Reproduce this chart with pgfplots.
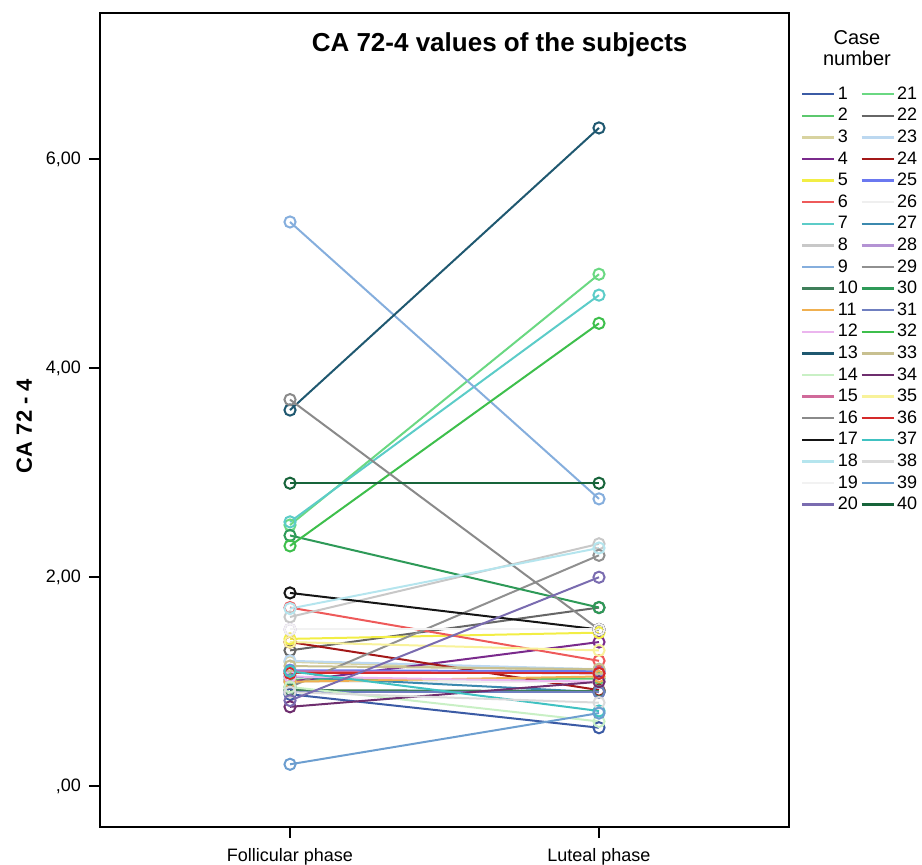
\documentclass[border=0pt]{standalone}
\usepackage{pgfplots}
\pgfplotsset{compat=1.18}
\usepackage{fontspec}
\setmainfont{Liberation Sans}
\definecolor{c1}{HTML}{3B5BA5}
\definecolor{c2}{HTML}{5CC86E}
\definecolor{c3}{HTML}{D8D3A0}
\definecolor{c4}{HTML}{7A2A8C}
\definecolor{c5}{HTML}{F2EE45}
\definecolor{c6}{HTML}{EE5A5A}
\definecolor{c7}{HTML}{5CCCC8}
\definecolor{c8}{HTML}{C8C8C8}
\definecolor{c9}{HTML}{85AEDD}
\definecolor{c10}{HTML}{3F7F5A}
\definecolor{c11}{HTML}{F0B050}
\definecolor{c12}{HTML}{EBB5EE}
\definecolor{c13}{HTML}{1F5870}
\definecolor{c14}{HTML}{C9F0C5}
\definecolor{c15}{HTML}{D06A9A}
\definecolor{c16}{HTML}{8A8A8A}
\definecolor{c17}{HTML}{151515}
\definecolor{c18}{HTML}{B5E5EE}
\definecolor{c19}{HTML}{F2F2F2}
\definecolor{c20}{HTML}{7A6CB0}
\definecolor{c21}{HTML}{6AD882}
\definecolor{c22}{HTML}{666666}
\definecolor{c23}{HTML}{BCD8F0}
\definecolor{c24}{HTML}{A31818}
\definecolor{c25}{HTML}{6A78F0}
\definecolor{c26}{HTML}{EFEFEF}
\definecolor{c27}{HTML}{3B89AE}
\definecolor{c28}{HTML}{B493D4}
\definecolor{c29}{HTML}{909090}
\definecolor{c30}{HTML}{2E9A58}
\definecolor{c31}{HTML}{6F7FC0}
\definecolor{c32}{HTML}{3EBF4C}
\definecolor{c33}{HTML}{C8C090}
\definecolor{c34}{HTML}{6E2E6E}
\definecolor{c35}{HTML}{F8F29A}
\definecolor{c36}{HTML}{D52A2A}
\definecolor{c37}{HTML}{40C2C2}
\definecolor{c38}{HTML}{DADADA}
\definecolor{c39}{HTML}{6C9ED0}
\definecolor{c40}{HTML}{17643A}
\begin{document}
\begin{tikzpicture}
\begin{axis}[
  scale only axis,
  width=344.5pt, height=407pt,
  xmin=-0.615, xmax=1.615,
  ymin=-0.39, ymax=7.40,
  axis line style={line width=1pt},
  xtick={0,1},
  xticklabels={Follicular phase, Luteal phase},
  ytick={0,2,4,6},
  yticklabels={{,00},{2,00},{4,00},{6,00}},
  xtick pos=left, ytick pos=left,
  tick align=outside,
  major tick length=5.5pt,
  tick style={line width=0.8pt, black},
  ticklabel style={font=\fontsize{9}{10}\selectfont},
  xticklabel style={yshift=-1.8pt},
  yticklabel style={xshift=-0.5pt},
  ylabel={\bfseries CA 72 - 4},
  ylabel style={font=\fontsize{11}{12}\selectfont, yshift=0pt, xshift=-3pt},
  /pgf/number format/assume math mode=true,
  every axis plot/.append style={mark=o, mark size=2.8pt, line width=1pt, mark options={line width=1pt, solid}},
  legend columns=2,
  legend cell align=left,
  legend image code/.code={\draw[#1, mark=none, line width=1.2pt] (0pt,0pt) -- (16pt,0pt);},
  legend style={at={(1.017,0.913)}, anchor=north west, draw=none, fill=none,
    font=\fontsize{9}{10}\selectfont, inner sep=0pt, row sep=0.8pt,
    nodes={text height=6.5pt, text depth=1.5pt, inner ysep=1pt, inner xsep=1.2pt},
    /tikz/every even column/.append style={column sep=0pt}},
]
\addplot[color=c1] coordinates {(0,0.88) (1,0.56)}; \addlegendentry{1}
\addplot[color=c21] coordinates {(0,2.50) (1,4.90)}; \addlegendentry{21}
\addplot[color=c2] coordinates {(0,1.02) (1,1.03)}; \addlegendentry{2}
\addplot[color=c22] coordinates {(0,1.30) (1,1.71)}; \addlegendentry{22}
\addplot[color=c3] coordinates {(0,1.19) (1,1.10)}; \addlegendentry{3}
\addplot[color=c23] coordinates {(0,1.20) (1,1.12)}; \addlegendentry{23}
\addplot[color=c4] coordinates {(0,1.00) (1,1.38)}; \addlegendentry{4}
\addplot[color=c24] coordinates {(0,1.38) (1,0.92)}; \addlegendentry{24}
\addplot[color=c5] coordinates {(0,1.41) (1,1.47)}; \addlegendentry{5}
\addplot[color=c25] coordinates {(0,1.11) (1,1.10)}; \addlegendentry{25}
\addplot[color=c6] coordinates {(0,1.71) (1,1.20)}; \addlegendentry{6}
\addplot[color=c26] coordinates {(0,1.00) (1,1.00)}; \addlegendentry{26}
\addplot[color=c7] coordinates {(0,2.53) (1,4.70)}; \addlegendentry{7}
\addplot[color=c27] coordinates {(0,1.05) (1,0.90)}; \addlegendentry{27}
\addplot[color=c8] coordinates {(0,1.62) (1,2.32)}; \addlegendentry{8}
\addplot[color=c28] coordinates {(0,1.50) (1,1.50)}; \addlegendentry{28}
\addplot[color=c9] coordinates {(0,5.40) (1,2.75)}; \addlegendentry{9}
\addplot[color=c29] coordinates {(0,0.95) (1,2.21)}; \addlegendentry{29}
\addplot[color=c10] coordinates {(0,0.92) (1,0.91)}; \addlegendentry{10}
\addplot[color=c30] coordinates {(0,2.40) (1,1.71)}; \addlegendentry{30}
\addplot[color=c11] coordinates {(0,1.00) (1,1.05)}; \addlegendentry{11}
\addplot[color=c31] coordinates {(0,0.90) (1,0.90)}; \addlegendentry{31}
\addplot[color=c12] coordinates {(0,1.05) (1,1.00)}; \addlegendentry{12}
\addplot[color=c32] coordinates {(0,2.30) (1,4.43)}; \addlegendentry{32}
\addplot[color=c13] coordinates {(0,3.60) (1,6.30)}; \addlegendentry{13}
\addplot[color=c33] coordinates {(0,1.15) (1,1.12)}; \addlegendentry{33}
\addplot[color=c14] coordinates {(0,0.95) (1,0.62)}; \addlegendentry{14}
\addplot[color=c34] coordinates {(0,0.76) (1,1.00)}; \addlegendentry{34}
\addplot[color=c15] coordinates {(0,1.10) (1,1.08)}; \addlegendentry{15}
\addplot[color=c35] coordinates {(0,1.38) (1,1.30)}; \addlegendentry{35}
\addplot[color=c16] coordinates {(0,3.70) (1,1.50)}; \addlegendentry{16}
\addplot[color=c36] coordinates {(0,1.08) (1,1.08)}; \addlegendentry{36}
\addplot[color=c17] coordinates {(0,1.85) (1,1.50)}; \addlegendentry{17}
\addplot[color=c37] coordinates {(0,1.10) (1,0.72)}; \addlegendentry{37}
\addplot[color=c18] coordinates {(0,1.70) (1,2.28)}; \addlegendentry{18}
\addplot[color=c38] coordinates {(0,0.90) (1,0.80)}; \addlegendentry{38}
\addplot[color=c19] coordinates {(0,1.50) (1,1.50)}; \addlegendentry{19}
\addplot[color=c39] coordinates {(0,0.21) (1,0.70)}; \addlegendentry{39}
\addplot[color=c20] coordinates {(0,0.82) (1,2.00)}; \addlegendentry{20}
\addplot[color=c40] coordinates {(0,2.90) (1,2.90)}; \addlegendentry{40}
\node[font=\fontsize{13}{14}\selectfont\bfseries] at (rel axis cs:0.58,0.961) {CA 72-4 values of the subjects};
\end{axis}
\node[font=\fontsize{10}{11.5}\selectfont, align=center, anchor=north] at ([shift={(378.5pt,402pt)}]current axis.south west) {Case\\[-1pt]number};
\pgfresetboundingbox
\path ([shift={(-50pt,-19pt)}]current axis.south west) rectangle ([shift={(411pt,413.5pt)}]current axis.south west);
\end{tikzpicture}
\end{document}
